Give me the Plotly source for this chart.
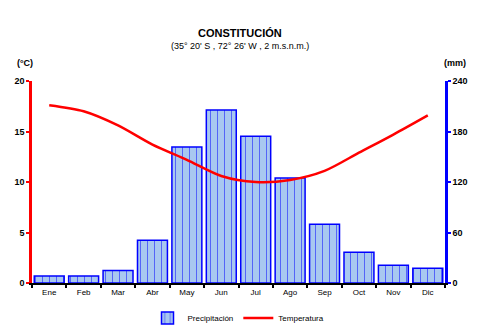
import plotly.graph_objects as go

months = ["Ene", "Feb", "Mar", "Abr", "May", "Jun", "Jul", "Ago", "Sep", "Oct", "Nov", "Dic"]
precip = [8.3, 8.3, 15.0, 50.7, 161.5, 205.5, 174.5, 124.7, 69.7, 36.5, 21.0, 17.5]
temp = [17.6, 17.0, 15.6, 13.7, 12.2, 10.6, 10.0, 10.2, 11.1, 12.9, 14.7, 16.6]

FONT = "Liberation Sans, Arial, sans-serif"

fig = go.Figure()
fig.add_trace(go.Bar(
    x=months, y=precip, name="Precipitación", yaxis="y",
    marker=dict(color="#a8c8f0", line=dict(color="#0000ff", width=1.5),
                pattern=dict(shape="|", fgcolor="#0000ff", bgcolor="#a8c8f0",
                             size=7, solidity=0.15)),
))
fig.add_trace(go.Scatter(
    x=months, y=temp, name="Temperatura", mode="lines", yaxis="y2",
    line=dict(color="#ff0000", width=2.5, shape="spline", smoothing=0.8),
))

L, R, T, B = 32, 35, 81, 47
fig.update_layout(
    width=480, height=330,
    margin=dict(l=L, r=R, t=T, b=B, autoexpand=False),
    paper_bgcolor="white", plot_bgcolor="white",
    font=dict(family=FONT, size=9, color="black"),
    bargap=0.13,
    showlegend=True,
    legend=dict(orientation="h", x=0.5, xanchor="center", y=-0.14, yanchor="top",
                font=dict(size=8), itemwidth=30, tracegroupgap=0),
    xaxis=dict(showgrid=False, showline=True, linecolor="black", linewidth=2,
               ticks="outside", tickson="boundaries", ticklen=3, tickcolor="black",
               tickwidth=2, tickfont=dict(size=8), fixedrange=True),
    yaxis=dict(range=[0, 240], tickvals=[0, 60, 120, 180, 240],
               side="right", showgrid=False, showline=True, linecolor="#0000ff",
               linewidth=2.5, ticks="outside", ticklen=3, tickcolor="#0000ff",
               tickwidth=2, tickfont=dict(size=9, family=FONT, weight="bold"),
               zeroline=False),
    yaxis2=dict(range=[0, 20], tickvals=[0, 5, 10, 15, 20], overlaying="y",
                side="left", showgrid=False,
                showline=True, linecolor="#ff0000", linewidth=2.5,
                ticks="outside", ticklen=3, tickcolor="#ff0000", tickwidth=2,
                tickfont=dict(size=9, family=FONT, weight="bold"), zeroline=False),
)

pw = 480 - L - R
ph = 330 - T - B
def px(x):
    return (x - L) / pw
def py(y):
    return (330 - B - y) / ph

fig.update_layout(annotations=[
    dict(text="<b>CONSTITUCIÓN</b>", xref="paper", yref="paper",
         x=px(240), y=py(33), xanchor="center", yanchor="middle",
         showarrow=False, font=dict(size=11)),
    dict(text="(35° 20' S , 72° 26' W , 2 m.s.n.m.)", xref="paper", yref="paper",
         x=px(240), y=py(46), xanchor="center", yanchor="middle",
         showarrow=False, font=dict(size=9)),
    dict(text="<b>(°C)</b>", xref="paper", yref="paper",
         x=px(25), y=py(63), xanchor="center", yanchor="middle",
         showarrow=False, font=dict(size=9)),
    dict(text="<b>(mm)</b>", xref="paper", yref="paper",
         x=px(455), y=py(63), xanchor="center", yanchor="middle",
         showarrow=False, font=dict(size=9)),
])
fig.update_layout(legend=dict(y=py(318) + 0.0, yanchor="middle"))

fig.write_html("out.html")
